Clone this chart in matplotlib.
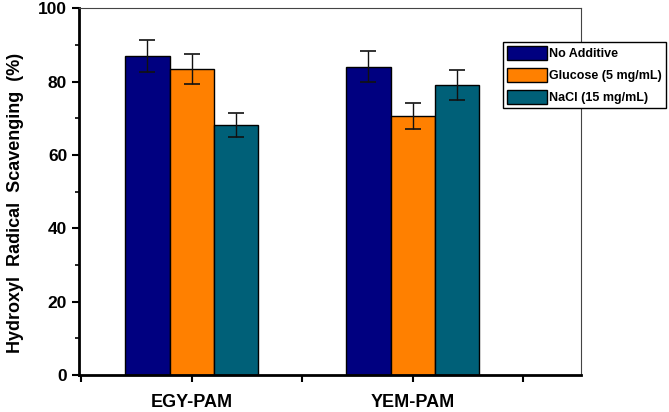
import matplotlib.pyplot as plt
import numpy as np
from matplotlib.ticker import MultipleLocator

plt.rcParams['font.family'] = ['Liberation Sans', 'DejaVu Sans']
plt.rcParams['font.weight'] = 'bold'

groups = ["EGY-PAM", "YEM-PAM"]
series = ["No Additive", "Glucose (5 mg/mL)", "NaCl (15 mg/mL)"]
values = [[87.0, 84.1], [83.4, 70.6], [68.2, 79.1]]
errors = [[4.3, 4.2], [4.1, 3.5], [3.3, 4.0]]
colors = ["#000080", "#FF8000", "#006078"]

fig = plt.figure(figsize=(6.69, 4.12), dpi=100)
ax = fig.add_axes([0.118, 0.090, 0.750, 0.890])

x = np.array([1.0, 2.0])
width = 0.2
for i, name in enumerate(series):
    ax.bar(x + (i - 1) * width, values[i], width, color=colors[i],
           edgecolor="black", linewidth=1.0, label=name,
           yerr=errors[i], error_kw=dict(ecolor="#111111", elinewidth=1.0,
                                         capsize=6, capthick=1.2))

ax.set_xlim(0.49, 2.76)
ax.set_ylim(0, 100)
ax.set_xticks(x)
ax.set_xticklabels(groups, fontsize=13, fontweight="bold")
ax.xaxis.set_minor_locator(MultipleLocator(0.5))
ax.yaxis.set_major_locator(MultipleLocator(20))
ax.yaxis.set_minor_locator(MultipleLocator(10))
ax.tick_params(axis="x", which="both", direction="out", length=5, width=1.5,
               pad=9, top=False)
ax.tick_params(axis="y", which="major", direction="out", length=5, width=1.5,
               labelsize=12.5, right=False)
ax.tick_params(axis="y", which="minor", direction="out", length=3, width=1.2,
               right=False)
ax.tick_params(axis="x", which="minor", labelbottom=False)
for lab in ax.get_yticklabels():
    lab.set_fontweight("bold")

ax.set_ylabel("Hydroxyl  Radical  Scavenging  (%)", fontsize=13,
              fontweight="bold")
ax.yaxis.set_label_coords(-0.11, 0.47)

ax.spines["left"].set_linewidth(2.0)
ax.spines["bottom"].set_linewidth(2.0)
ax.spines["top"].set_linewidth(0.8)
ax.spines["right"].set_linewidth(0.8)
ax.spines["top"].set_color("#444444")
ax.spines["right"].set_color("#444444")

leg = ax.legend(loc="upper left", bbox_to_anchor=(0.845, 0.907),
                fontsize=9, frameon=True, fancybox=False, framealpha=1,
                edgecolor="black", handlelength=3.2, handleheight=1.3,
                handletextpad=0.2, borderpad=0.3, labelspacing=0.65,
                borderaxespad=0)
leg.get_frame().set_linewidth(1.0)
for t in leg.get_texts():
    t.set_fontweight("bold")

fig.savefig("out.png", dpi=100)
